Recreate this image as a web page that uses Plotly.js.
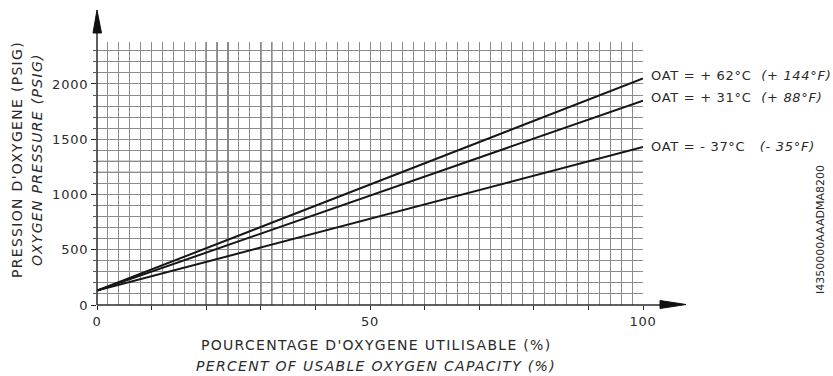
<!DOCTYPE html>
<html>
<head>
<meta charset="utf-8">
<script src="https://cdn.plot.ly/plotly-3.0.1.min.js"></script>
<style>
html,body{margin:0;padding:0;background:#fff;}
#chart{width:833px;height:376px;}
text[data-unformatted^="OAT"]{letter-spacing:0.7px;}
text[data-unformatted*="OXYGEN"]{letter-spacing:1.3px;}
.xtick text,.ytick text{letter-spacing:0.8px;}
</style>
</head>
<body>
<div id="chart"></div>
<script>
// ---- data ----
const xPct = [0, 100];
const pressureHot = [130, 2050];   // OAT +62°C
const pressureWarm = [130, 1850];  // OAT +31°C
const pressureCold = [130, 1430];  // OAT -37°C
const seriesLabels = [
  "OAT = + 62°C\u00A0\u00A0<i>(+ 144°F)</i>",
  "OAT = + 31°C\u00A0\u00A0<i>(+ 88°F)</i>",
  "OAT = - 37°C\u00A0\u00A0\u00A0<i>(- 35°F)</i>"
];
const xTickVals = [0, 10, 20, 30, 40, 50, 60, 70, 80, 90, 100];
const xTickText = ["0", "", "", "", "", "50", "", "", "", "", "100"];
const yTickVals = [0, 500, 1000, 1500, 2000];
const yTickText = ["0", "500", "1000", "1500", "2000"];
const darkGridX = [20, 22, 24, 30, 32];
const darkGridY = [1200, 1300];

// ---- geometry helpers (plot area in pixels) ----
const L = 97, R = 643, B = 305, T = 42;
const W = R - L, H = B - T;
const px = v => (v - L) / W;
const py = v => (B - v) / H;

const font = "DejaVu Sans, Arial, sans-serif";
const ink = "#2a2a2a";
const gridCol = "#8c8c8c";
const allSeries = [pressureHot, pressureWarm, pressureCold];

const traces = allSeries.map(s => ({
  x: xPct, y: s, type: "scatter", mode: "lines",
  line: {color: "#161616", width: 2}, hoverinfo: "skip", showlegend: false
}));

const shapes = [];
darkGridX.forEach(v => shapes.push({type: "line", xref: "x", yref: "y", x0: v, x1: v, y0: 0, y1: 2380,
  line: {color: "#4a4a4a", width: 1.4}, layer: "below"}));
darkGridY.forEach(v => shapes.push({type: "line", xref: "x", yref: "y", x0: 0, x1: 100, y0: v, y1: v,
  line: {color: "#4a4a4a", width: 1.4}, layer: "below"}));
// axis lines with arrows
shapes.push({type: "line", xref: "paper", yref: "paper", x0: 0, x1: 0, y0: 0, y1: py(30), line: {color: ink, width: 1.5}});
shapes.push({type: "path", xref: "paper", yref: "paper", fillcolor: "#111", line: {color: "#111", width: 1},
  path: `M ${px(97)} ${py(10)} L ${px(93)} ${py(33)} L ${px(101.5)} ${py(33)} Z`});
shapes.push({type: "line", xref: "paper", yref: "paper", x0: 0, x1: px(662), y0: 0, y1: 0, line: {color: ink, width: 1.5}});
shapes.push({type: "path", xref: "paper", yref: "paper", fillcolor: "#111", line: {color: "#111", width: 1},
  path: `M ${px(686)} ${py(304.5)} L ${px(660)} ${py(300.5)} L ${px(660)} ${py(308.5)} Z`});

const annotations = [];
allSeries.forEach((s, i) => annotations.push({
  x: xPct[xPct.length - 1], y: s[s.length - 1], xref: "x", yref: "y",
  text: seriesLabels[i], showarrow: false, xanchor: "left", yanchor: "middle", align: "left",
  xshift: 6, yshift: i < 2 ? 3 : 0, font: {family: font, size: 13, color: ink}
}));
annotations.push({xref: "paper", yref: "paper", x: px(376), y: py(345), text: "POURCENTAGE D'OXYGENE UTILISABLE (%)",
  showarrow: false, xanchor: "center", yanchor: "middle", font: {family: font, size: 14, color: ink}});
annotations.push({xref: "paper", yref: "paper", x: px(376), y: py(366), text: "<i>PERCENT OF USABLE OXYGEN CAPACITY (%)</i>",
  showarrow: false, xanchor: "center", yanchor: "middle", font: {family: font, size: 14, color: ink}});
annotations.push({xref: "paper", yref: "paper", x: px(17), y: py(160), text: "PRESSION D'OXYGENE (PSIG)", textangle: -90,
  showarrow: false, xanchor: "center", yanchor: "middle", font: {family: font, size: 14, color: ink}});
annotations.push({xref: "paper", yref: "paper", x: px(37), y: py(160), text: "<i>OXYGEN PRESSURE (PSIG)</i>", textangle: -90,
  showarrow: false, xanchor: "center", yanchor: "middle", font: {family: font, size: 14, color: ink}});
annotations.push({xref: "paper", yref: "paper", x: px(820), y: py(230), text: "I4350000AAADMA8200", textangle: -90,
  showarrow: false, xanchor: "center", yanchor: "middle", font: {family: font, size: 11, color: ink}});

const layout = {
  width: 833, height: 376,
  margin: {l: L, r: 833 - R, t: T, b: 376 - B, pad: 0},
  paper_bgcolor: "#fff", plot_bgcolor: "#fff",
  showlegend: false,
  xaxis: {
    range: [0, 100], tickmode: "array", tickvals: xTickVals, ticktext: xTickText,
    ticks: "outside", ticklen: 4, tickcolor: ink, tickwidth: 1,
    showgrid: true, gridcolor: gridCol, gridwidth: 1,
    minor: {dtick: 2, showgrid: true, gridcolor: gridCol, gridwidth: 1, ticks: ""},
    zeroline: false, showline: false,
    tickfont: {family: font, size: 13, color: ink}, fixedrange: true
  },
  yaxis: {
    range: [0, 2380], tickmode: "array", tickvals: yTickVals, ticktext: yTickText,
    ticks: "outside", ticklen: 5, tickcolor: ink, tickwidth: 1,
    showgrid: true, gridcolor: gridCol, gridwidth: 1,
    minor: {dtick: 100, showgrid: true, gridcolor: gridCol, gridwidth: 1, ticks: "outside", ticklen: 3, tickcolor: "#555"},
    zeroline: false, showline: false,
    tickfont: {family: font, size: 13, color: ink}, fixedrange: true
  },
  shapes: shapes,
  annotations: annotations
};

Plotly.newPlot("chart", traces, layout, {displayModeBar: false, staticPlot: true});
</script>
</body>
</html>
